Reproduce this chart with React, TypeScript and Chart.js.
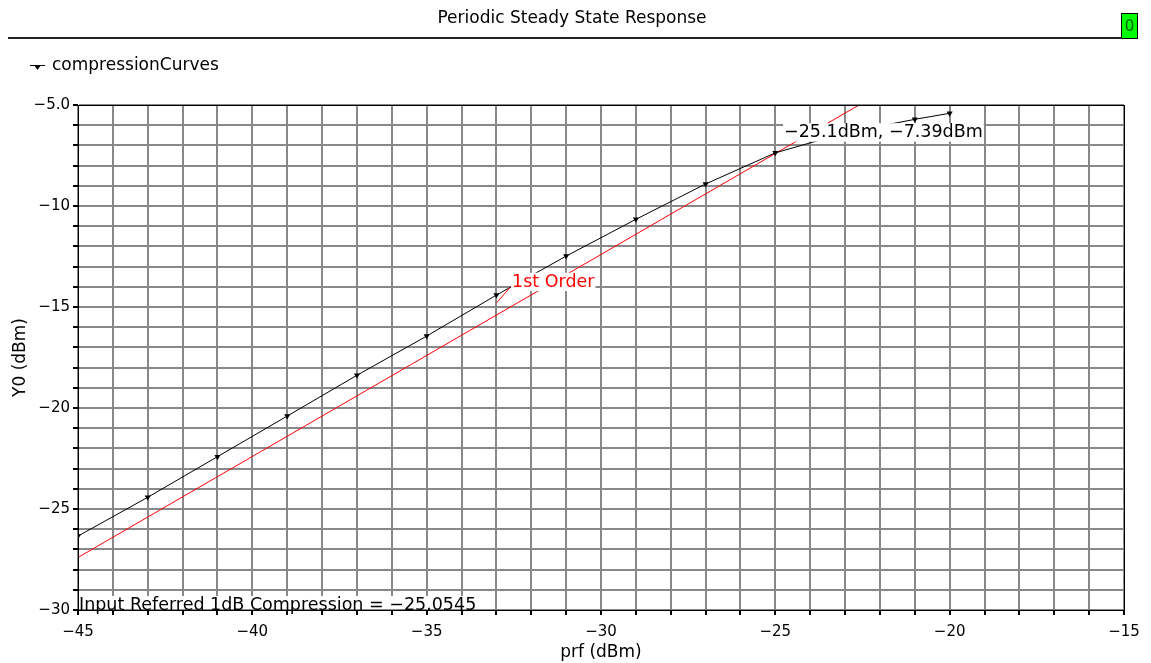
import React, { useEffect, useRef } from 'react';
import { Chart, registerables } from 'chart.js';

Chart.register(...registerables);

const W = 1151;
const H = 663;

// compression curve (input power dBm -> output power dBm)
const inputPower = [-45, -43, -41, -39, -37, -35, -33, -31, -29, -27, -25, -23, -21, -20];
const outputPower = [-26.34, -24.42, -22.41, -20.4, -18.38, -16.44, -14.41, -12.48, -10.66, -8.91, -7.37, -6.38, -5.71, -5.41];

// 1st order extrapolation line
const firstOrderIn = [-45, -15];
const firstOrderOut = [-27.4, 2.6];

// tick labels
const xTickLabels = [-45, -40, -35, -30, -25, -20, -15];
const yTickLabels = [-30, -25, -20, -15, -10, -5];

// annotations (data coordinates)
const firstOrderLabelAt = [-32.55, -13.78];
const firstOrderLeader = [[-32.99, -14.79], [-32.61, -14.03]];
const compressionLabelAt = [-24.75, -6.38];

const MINUS = '\u2212';
const fmt = (v: number) => (v < 0 ? MINUS : '') + String(Math.abs(v));

const FONT = "'DejaVu Sans', sans-serif";

const decor = {
  id: 'decor',
  afterDatasetsDraw(chart: any) {
    const { ctx, chartArea } = chart;
    const { left, top, right, bottom } = chartArea;
    const x = chart.scales.x;
    const y = chart.scales.y;
    ctx.save();

    // leader line for 1st order label
    ctx.strokeStyle = '#ff0000';
    ctx.lineWidth = 1;
    ctx.beginPath();
    ctx.moveTo(x.getPixelForValue(firstOrderLeader[0][0]), y.getPixelForValue(firstOrderLeader[0][1]));
    ctx.lineTo(x.getPixelForValue(firstOrderLeader[1][0]), y.getPixelForValue(firstOrderLeader[1][1]));
    ctx.stroke();

    const label = (text: string, px: number, py: number, color: string, size: number, bgTop?: number, bgBottom?: number) => {
      ctx.font = `${size}px ${FONT}`;
      const w = ctx.measureText(text).width;
      ctx.fillStyle = '#ffffff';
      const t = bgTop !== undefined ? bgTop : py - size * 0.55;
      const b = bgBottom !== undefined ? bgBottom : py + size * 0.5;
      ctx.fillRect(px - 1, t, w + 2, b - t);
      ctx.fillStyle = color;
      ctx.textBaseline = 'middle';
      ctx.textAlign = 'left';
      ctx.fillText(text, px, py);
    };

    label('1st Order', x.getPixelForValue(firstOrderLabelAt[0]), y.getPixelForValue(firstOrderLabelAt[1]), '#ff0000', 17.5);
    label(`${MINUS}25.1dBm, ${MINUS}7.39dBm`, x.getPixelForValue(compressionLabelAt[0]), y.getPixelForValue(compressionLabelAt[1]), '#000000', 17.5);
    label(`Input Referred 1dB Compression = ${MINUS}25.0545`, left + 1, bottom - 5, '#000000', 17.5, bottom - 14, bottom - 1);

    // plot frame
    ctx.strokeStyle = '#000000';
    ctx.lineWidth = 1;
    ctx.strokeRect(Math.round(left) + 0.5, Math.round(top) + 0.5, Math.round(right - left), Math.round(bottom - top));
    ctx.restore();
  },
  afterDraw(chart: any) {
    const { ctx } = chart;
    ctx.save();
    // title
    ctx.font = `17px ${FONT}`;
    ctx.fillStyle = '#000';
    ctx.textAlign = 'center';
    ctx.textBaseline = 'middle';
    ctx.fillText('Periodic Steady State Response', 572, 19);
    // underline
    ctx.fillStyle = '#222';
    ctx.fillRect(8, 37, 1113, 2);
    // green status box
    ctx.fillStyle = '#00ff00';
    ctx.fillRect(1121, 13, 17, 25);
    ctx.strokeStyle = '#000';
    ctx.lineWidth = 1;
    ctx.strokeRect(1121.5, 13.5, 16, 25);
    ctx.fillStyle = '#006000';
    ctx.font = `15px ${FONT}`;
    ctx.fillText('0', 1129.5, 27);
    // legend
    ctx.strokeStyle = '#000';
    ctx.beginPath();
    ctx.moveTo(30, 65.5);
    ctx.lineTo(45, 65.5);
    ctx.stroke();
    ctx.fillStyle = '#000';
    ctx.beginPath();
    ctx.moveTo(34, 65);
    ctx.lineTo(41, 65);
    ctx.lineTo(37.5, 70);
    ctx.closePath();
    ctx.fill();
    ctx.font = `17px ${FONT}`;
    ctx.textAlign = 'left';
    ctx.fillText('compressionCurves', 52, 66);
    ctx.restore();
  },
};

export default function App() {
  const ref = useRef<HTMLCanvasElement | null>(null);
  useEffect(() => {
    if (!ref.current) return;
    const chart = new Chart(ref.current, {
      type: 'line',
      data: {
        datasets: [
          {
            label: 'compressionCurves',
            data: inputPower.map((v, i) => ({ x: v, y: outputPower[i] })),
            borderColor: '#000000',
            backgroundColor: '#000000',
            borderWidth: 1,
            pointStyle: 'triangle',
            rotation: 180,
            pointRadius: 3.5,
            pointBorderWidth: 0,
            tension: 0,
          },
          {
            label: '1st Order',
            data: firstOrderIn.map((v, i) => ({ x: v, y: firstOrderOut[i] })),
            borderColor: '#ff0000',
            backgroundColor: '#ff0000',
            borderWidth: 1,
            pointRadius: 0,
            tension: 0,
          },
        ],
      },
      options: {
        animation: false,
        responsive: false,
        devicePixelRatio: 1,
        events: [],
        layout: { padding: { left: 0, top: 105, right: 27, bottom: 0 } },
        plugins: { legend: { display: false }, title: { display: false }, tooltip: { enabled: false } },
        scales: {
          x: {
            type: 'linear',
            min: -45,
            max: -15,
            ticks: {
              stepSize: 1,
              autoSkip: false,
              maxRotation: 0,
              minRotation: 0,
              padding: 8,
              color: '#000',
              font: { family: FONT, size: 15 },
              callback: (v: any) => (xTickLabels.includes(Number(v)) ? fmt(Number(v)) : ''),
            },
            grid: { color: '#888888', tickColor: '#000', tickLength: 5, lineWidth: 2 },
            border: { color: '#000', width: 1 },
            title: { display: true, text: 'prf (dBm)', color: '#000', font: { family: FONT, size: 17 }, padding: { top: 0, bottom: 0 } },
            afterFit: (s: any) => { s.height = 53; },
          },
          y: {
            type: 'linear',
            min: -30,
            max: -5,
            ticks: {
              stepSize: 1,
              autoSkip: false,
              padding: 3,
              color: '#000',
              font: { family: FONT, size: 15 },
              callback: (v: any) => {
                const n = Number(v);
                if (!yTickLabels.includes(n)) return '';
                return n === -5 ? MINUS + '5.0' : fmt(n);
              },
            },
            grid: { color: '#888888', tickColor: '#000', tickLength: 5, lineWidth: 2 },
            border: { color: '#000', width: 1 },
            title: { display: true, text: 'Y0 (dBm)', color: '#000', font: { family: FONT, size: 17 }, padding: { top: 10, bottom: 0 } },
            afterFit: (s: any) => { s.width = 78; },
          },
        },
      },
      plugins: [decor],
    });
    return () => chart.destroy();
  }, []);
  return (
    <div style={{ position: 'absolute', left: 0, top: 0, width: W, height: H, background: '#fff' }}>
      <canvas ref={ref} width={W} height={H} />
    </div>
  );
}
